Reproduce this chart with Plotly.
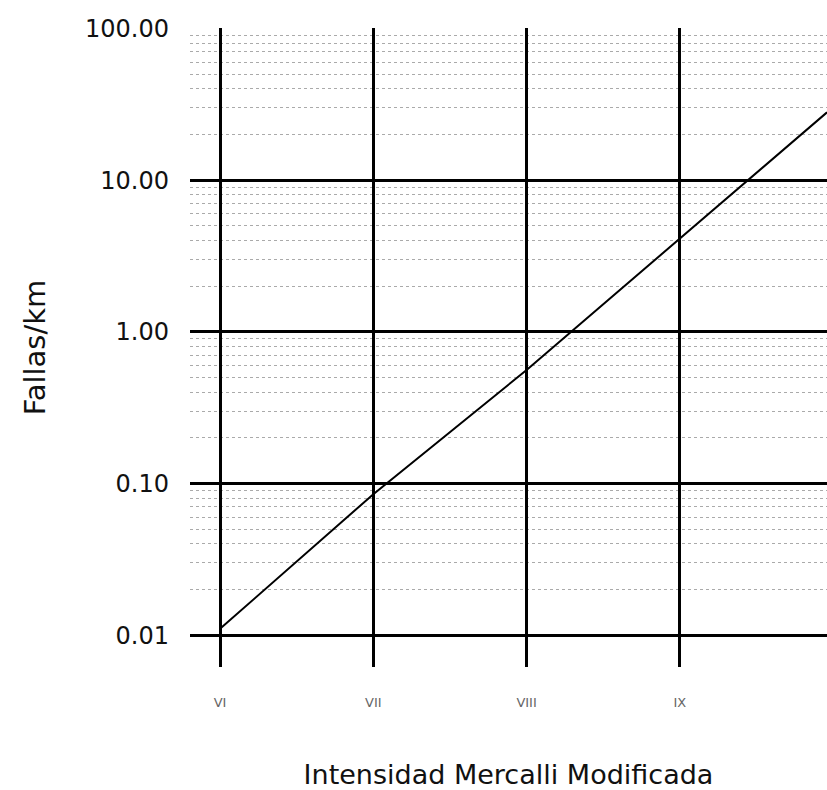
import plotly.graph_objects as go

# Data
intensity = [6, 7, 8, 9, 9.96]
fallas_km = [0.011, 0.085, 0.56, 4.1, 28.0]

x_tickvals = [6, 7, 8, 9]
x_ticktext = ["VI", "VII", "VIII", "IX"]
y_tickvals = [0.01, 0.1, 1, 10, 100]
y_ticktext = ["0.01", "0.10", "1.00", "10.00", "100.00"]
y_minor = [m * d for d in [0.01, 0.1, 1, 10] for m in range(2, 10)]

fig = go.Figure()
fig.add_trace(go.Scatter(
    x=intensity, y=fallas_km, mode="lines",
    line=dict(color="black", width=2), showlegend=False,
))

fig.update_layout(
    width=827, height=790,
    margin=dict(l=190, r=0, t=28, b=123),
    paper_bgcolor="white", plot_bgcolor="white",
    font=dict(family="DejaVu Sans, Liberation Sans, sans-serif", color="black"),
    xaxis=dict(
        range=[5.804, 9.96],
        tickvals=x_tickvals, ticktext=x_ticktext,
        showgrid=True, gridcolor="black", gridwidth=2.5,
        zeroline=False, showline=False, ticks="",
        tickfont=dict(size=13, color="#666"),
        ticklabelstandoff=26,
        automargin=False,
        title=dict(text="Intensidad Mercalli Modificada",
                   font=dict(size=27, color="#111"), standoff=58),
    ),
    yaxis=dict(
        type="log",
        range=[-2.21, 2.003],
        tickvals=y_tickvals, ticktext=y_ticktext,
        showgrid=True, gridcolor="black", gridwidth=2.5,
        zeroline=False, showline=False, ticks="",
        tickfont=dict(size=24, color="#111"),
        ticklabelstandoff=20,
        automargin=False,
        minor=dict(tickvals=y_minor, showgrid=True, gridcolor="#aaa",
                   griddash="dot", gridwidth=1.2),
        title=dict(text="Fallas/km", font=dict(size=29, color="#111"),
                   standoff=30),
    ),
)

fig.write_html(
    "out.html",
    config={"displayModeBar": False},
    post_script="document.body.style.margin='0';document.body.style.overflow='hidden';",
)
